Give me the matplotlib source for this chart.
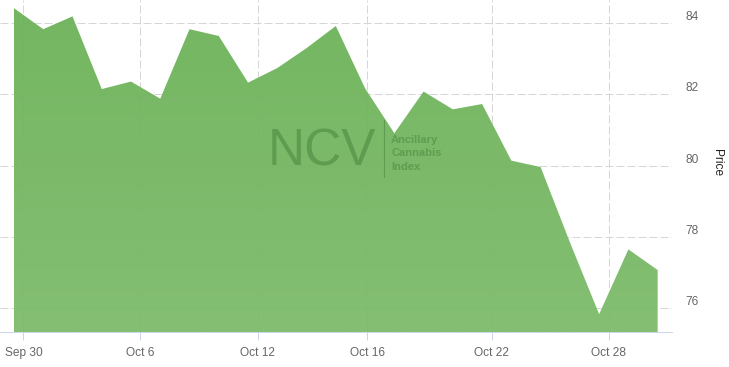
import numpy as np
from matplotlib import pyplot as plt
from matplotlib.colors import LinearSegmentedColormap
from matplotlib.lines import Line2D
from matplotlib.transforms import ScaledTranslation

# daily index price, one value per trading day
price = [84.42, 83.83, 84.19, 82.15, 82.36, 81.88, 83.83, 83.64, 82.33, 82.74,
         83.30, 83.92, 82.17, 80.91, 82.08, 81.58, 81.73, 80.14, 79.96, 77.85,
         75.83, 77.65, 77.07]
tick_labels = ['Sep 30', 'Oct 6', 'Oct 12', 'Oct 16', 'Oct 22', 'Oct 28']
tick_pos = [0.32, 4.32, 8.33, 12.07, 16.33, 20.32]
y_ticks = [76, 78, 80, 82, 84]

W, H = 729, 367
fig = plt.figure(figsize=(W / 100, H / 100), dpi=100)
ax = fig.add_axes([0, 35 / H, 671.7 / W, 332 / H])

x = np.arange(len(price))
ymin, ymax = 75.33, 84.65
ax.set_xlim(-0.478, 22.48)
ax.set_ylim(ymin, ymax)

grid_kw = dict(color='#d6d6d6', lw=0.72, ls=(0, (8, 3)), zorder=0)
for t in tick_pos:
    ax.axvline(t, **grid_kw)
for v in y_ticks:
    ax.axhline(v, **grid_kw)

# area with a light vertical gradient
poly = ax.fill_between(x, price, ymin, color='none', lw=0, zorder=1)
cmap = LinearSegmentedColormap.from_list('g', ['#7dbc6b', '#6db259'])
grad = np.linspace(0, 1, 256).reshape(-1, 1)
im = ax.imshow(grad, extent=[x[0], x[-1], ymin, max(price)], origin='lower',
               aspect='auto', cmap=cmap, alpha=0.95, zorder=1)
im.set_clip_path(poly.get_paths()[0], ax.transData)

for s in ['left', 'right', 'top']:
    ax.spines[s].set_visible(False)
ax.spines['bottom'].set_color('#ccd6eb')
ax.spines['bottom'].set_linewidth(0.72)

ax.set_xticks(tick_pos)
ax.set_xticklabels(tick_labels, family='Liberation Sans', size=8.6, color='#666666')
ax.tick_params(axis='x', length=5.8, width=0.72, color='#ccd6eb', pad=5)

ax.yaxis.tick_right()
ax.set_yticks(y_ticks)
ax.set_yticklabels([str(v) for v in y_ticks], family='Liberation Sans', size=8.6,
                   color='#666666')
ax.tick_params(axis='y', length=0, pad=10)
# labels sit a little above their grid line
shift = ScaledTranslation(0, 7.5 / 100, fig.dpi_scale_trans)
for lab in ax.get_yticklabels():
    lab.set_transform(lab.get_transform() + shift)

fig.text(716.7 / W, 1 - 163 / H, 'Price', rotation=270, ha='center', va='center',
         family='Liberation Sans', size=8.6, color='#222222')

# watermark
wm = '#5f9c4f'
fig.text(322 / W, 1 - 152 / H, 'NCV', ha='center', va='center',
         family='Liberation Sans', size=37, color=wm, zorder=5)
fig.add_artist(Line2D([384.3 / W, 384.3 / W], [1 - 120 / H, 1 - 177 / H],
                      color=wm, lw=0.8, zorder=5))
for i, word in enumerate(['Ancillary', 'Cannabis', 'Index']):
    fig.text(391 / W, 1 - (140 + 13.3 * i) / H, word, ha='left', va='center',
             family='Liberation Sans', weight='bold', size=8, color=wm, zorder=5)

fig.savefig('out.png', dpi=100)
